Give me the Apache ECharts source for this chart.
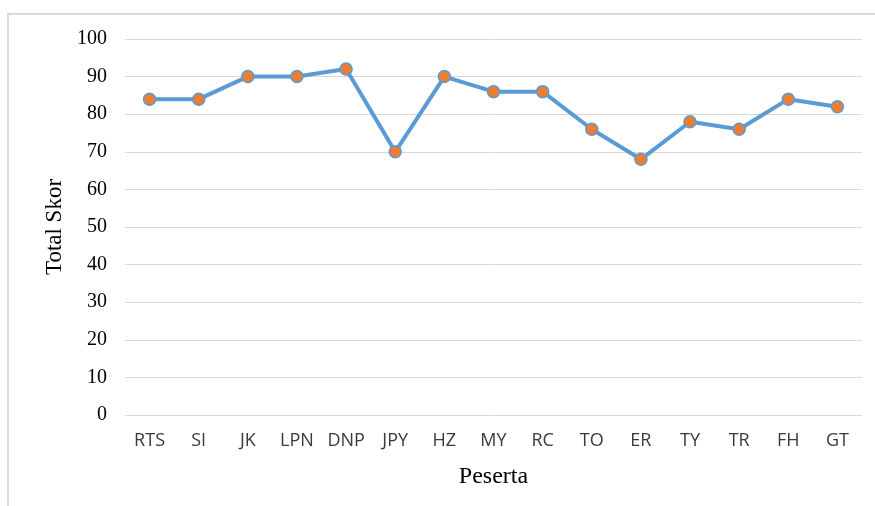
<!DOCTYPE html>
<html><head><meta charset="utf-8">
<script src="https://cdn.jsdelivr.net/npm/echarts@6/dist/echarts.min.js"></script>
<style>html,body{margin:0;padding:0;background:#fff}#c{width:875px;height:506px}</style>
</head><body><div id="c"></div>
<script>
const categories = ['RTS','SI','JK','LPN','DNP','JPY','HZ','MY','RC','TO','ER','TY','TR','FH','GT'];
const totalSkor = [84,84,90,90,92,70,90,86,86,76,68,78,76,84,82];
const chart = echarts.init(document.getElementById('c'), null, {renderer:'canvas'});
chart.setOption({
  animation:false,
  graphic:[{type:'rect',shape:{x:8,y:14,width:900,height:600},style:{fill:'none',stroke:'#d9d9d9',lineWidth:2},silent:true}],
  grid:{left:125,right:13,top:39,bottom:91,containLabel:false},
  xAxis:{type:'category',data:categories,boundaryGap:true,
    axisLine:{show:false},axisTick:{show:false},
    axisLabel:{color:'#3a3a3a',fontFamily:'Open Sans, Liberation Sans, sans-serif',fontSize:18,margin:17},
    name:'Peserta',nameLocation:'middle',nameGap:50,
    nameTextStyle:{fontFamily:'Liberation Serif, serif',fontSize:24,color:'#000'}},
  yAxis:{type:'value',min:0,max:100,interval:10,
    axisLine:{show:false},axisTick:{show:false},
    splitLine:{lineStyle:{color:'#d9d9d9',width:1}},
    axisLabel:{color:'#000',fontFamily:'Liberation Serif, serif',fontSize:20,margin:18,padding:[3,0,0,0]},
    name:'Total Skor',nameLocation:'middle',nameGap:57,nameRotate:90,
    nameTextStyle:{fontFamily:'Liberation Serif, serif',fontSize:23,color:'#000'}},
  series:[{type:'line',data:totalSkor,
    lineStyle:{color:'#5b9bd5',width:4},
    symbol:'circle',symbolSize:12,
    itemStyle:{color:'#ed7d31',borderColor:'#5b9bd5',borderWidth:1.5}}]
});
</script></body></html>
